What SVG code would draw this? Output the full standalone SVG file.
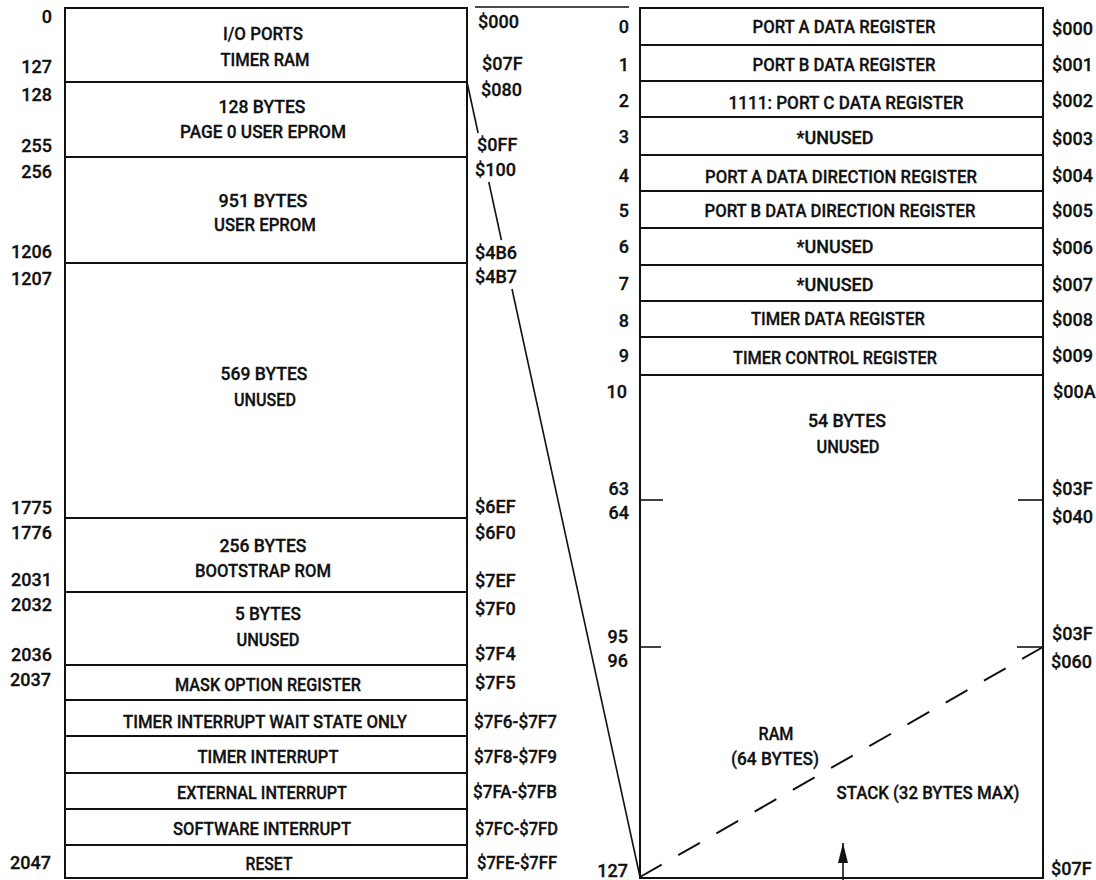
<svg xmlns="http://www.w3.org/2000/svg" width="1096" height="880" viewBox="0 0 1096 880">
<style>
.bg{fill:#fff}
.box{fill:none;stroke:#111;stroke-width:2}
.tick{stroke:#111;stroke-width:1.6}
.t{font-family:Roboto,"Liberation Sans",Arial,sans-serif;font-size:18px;font-weight:500;fill:#111;stroke:#111;stroke-width:0.3}
.m{text-anchor:middle}
.e{text-anchor:end}
.cn{fill:none;stroke:#111;stroke-width:1.6}
.dash{fill:none;stroke:#111;stroke-width:2;stroke-dasharray:25 19}
</style>
<defs>
<marker id="ah" viewBox="0 0 20 10" refX="20" refY="5" markerWidth="20" markerHeight="10" markerUnits="userSpaceOnUse" orient="auto">
<path d="M0,0 L20,5 L0,10 Z" fill="#111"/>
</marker>
</defs>
<rect class="bg" x="0" y="0" width="1096" height="880"/>

<!-- LEFT MEMORY MAP -->
<g id="io">
<rect class="box" x="65" y="8" width="402" height="74"/>
<text class="t m" x="263" y="40" textLength="80" lengthAdjust="spacingAndGlyphs">I/O PORTS</text>
<text class="t m" x="265" y="66" textLength="89" lengthAdjust="spacingAndGlyphs">TIMER RAM</text>
<text class="t e" x="52" y="23">0</text>
<text class="t e" x="52" y="73">127</text>
<text class="t" x="478" y="28">$000</text>
<text class="t" x="482" y="70">$07F</text>
</g>
<g id="page0">
<rect class="box" x="65" y="82" width="402" height="75"/>
<text class="t m" x="262" y="113" textLength="87" lengthAdjust="spacingAndGlyphs">128 BYTES</text>
<text class="t m" x="263" y="138" textLength="166" lengthAdjust="spacingAndGlyphs">PAGE 0 USER EPROM</text>
<text class="t e" x="52" y="101">128</text>
<text class="t e" x="52" y="152">255</text>
<text class="t" x="481" y="96">$080</text>
<text class="t" x="477" y="151">$0FF</text>
</g>
<g id="eprom">
<rect class="box" x="65" y="157" width="402" height="106"/>
<text class="t m" x="263" y="207" textLength="89" lengthAdjust="spacingAndGlyphs">951 BYTES</text>
<text class="t m" x="265" y="231" textLength="102" lengthAdjust="spacingAndGlyphs">USER EPROM</text>
<text class="t e" x="52" y="178">256</text>
<text class="t e" x="52" y="258">1206</text>
<text class="t" x="475" y="176">$100</text>
<text class="t" x="475" y="259">$4B6</text>
</g>
<g id="unused569">
<rect class="box" x="65" y="263" width="402" height="255"/>
<text class="t m" x="264" y="380" textLength="87" lengthAdjust="spacingAndGlyphs">569 BYTES</text>
<text class="t m" x="265" y="406" textLength="62" lengthAdjust="spacingAndGlyphs">UNUSED</text>
<text class="t e" x="52" y="285">1207</text>
<text class="t e" x="52" y="514">1775</text>
<text class="t" x="475" y="283">$4B7</text>
<text class="t" x="475" y="513">$6EF</text>
</g>
<g id="bootstrap">
<rect class="box" x="65" y="518" width="402" height="74"/>
<text class="t m" x="263" y="552" textLength="87" lengthAdjust="spacingAndGlyphs">256 BYTES</text>
<text class="t m" x="263" y="577" textLength="136" lengthAdjust="spacingAndGlyphs">BOOTSTRAP ROM</text>
<text class="t e" x="52" y="539">1776</text>
<text class="t e" x="52" y="586">2031</text>
<text class="t" x="475" y="539">$6F0</text>
<text class="t" x="475" y="587">$7EF</text>
</g>
<g id="unused5">
<rect class="box" x="65" y="592" width="402" height="73"/>
<text class="t m" x="268" y="620" textLength="66" lengthAdjust="spacingAndGlyphs">5 BYTES</text>
<text class="t m" x="268" y="646" textLength="63" lengthAdjust="spacingAndGlyphs">UNUSED</text>
<text class="t e" x="52" y="611">2032</text>
<text class="t e" x="52" y="661">2036</text>
<text class="t" x="475" y="615">$7F0</text>
<text class="t" x="475" y="660">$7F4</text>
</g>
<g id="mask">
<rect class="box" x="65" y="665" width="402" height="35"/>
<text class="t m" x="268" y="691" textLength="186" lengthAdjust="spacingAndGlyphs">MASK OPTION REGISTER</text>
<text class="t e" x="51" y="686">2037</text>
<text class="t" x="475" y="689">$7F5</text>
</g>
<g id="timer-wait">
<rect class="box" x="65" y="700" width="402" height="36"/>
<text class="t m" x="265" y="728" textLength="284" lengthAdjust="spacingAndGlyphs">TIMER INTERRUPT WAIT STATE ONLY</text>
<text class="t" x="474" y="728" textLength="83" lengthAdjust="spacingAndGlyphs">$7F6-$7F7</text>
</g>
<g id="timer-int">
<rect class="box" x="65" y="736" width="402" height="37"/>
<text class="t m" x="268" y="763" textLength="141" lengthAdjust="spacingAndGlyphs">TIMER INTERRUPT</text>
<text class="t" x="474" y="763" textLength="83" lengthAdjust="spacingAndGlyphs">$7F8-$7F9</text>
</g>
<g id="ext-int">
<rect class="box" x="65" y="773" width="402" height="36"/>
<text class="t m" x="262" y="799" textLength="170" lengthAdjust="spacingAndGlyphs">EXTERNAL INTERRUPT</text>
<text class="t" x="473" y="798" textLength="84" lengthAdjust="spacingAndGlyphs">$7FA-$7FB</text>
</g>
<g id="swi">
<rect class="box" x="65" y="809" width="402" height="36"/>
<text class="t m" x="262" y="835" textLength="178" lengthAdjust="spacingAndGlyphs">SOFTWARE INTERRUPT</text>
<text class="t" x="475" y="835" textLength="83" lengthAdjust="spacingAndGlyphs">$7FC-$7FD</text>
</g>
<g id="reset">
<rect class="box" x="65" y="845" width="402" height="33"/>
<text class="t m" x="269" y="870" textLength="47" lengthAdjust="spacingAndGlyphs">RESET</text>
<text class="t e" x="51" y="869">2047</text>
<text class="t" x="477" y="869" textLength="80" lengthAdjust="spacingAndGlyphs">$7FE-$7FF</text>
</g>

<!-- RIGHT EXPANDED MAP -->
<g id="r0">
<rect class="box" x="640" y="8" width="403" height="37"/>
<text class="t m" x="844" y="33" textLength="183" lengthAdjust="spacingAndGlyphs">PORT A DATA REGISTER</text>
<text class="t e" x="629" y="33">0</text>
<text class="t" x="1052" y="35">$000</text>
</g>
<g id="r1">
<rect class="box" x="640" y="45" width="403" height="36"/>
<text class="t m" x="844" y="71" textLength="183" lengthAdjust="spacingAndGlyphs">PORT B DATA REGISTER</text>
<text class="t e" x="629" y="71">1</text>
<text class="t" x="1052" y="71">$001</text>
</g>
<g id="r2">
<rect class="box" x="640" y="81" width="403" height="36"/>
<text class="t m" x="846" y="109" textLength="235" lengthAdjust="spacingAndGlyphs">1111: PORT C DATA REGISTER</text>
<text class="t e" x="629" y="107">2</text>
<text class="t" x="1052" y="107">$002</text>
</g>
<g id="r3">
<rect class="box" x="640" y="117" width="403" height="38"/>
<text class="t m" x="835" y="144" textLength="77" lengthAdjust="spacingAndGlyphs">*UNUSED</text>
<text class="t e" x="629" y="143">3</text>
<text class="t" x="1052" y="145">$003</text>
</g>
<g id="r4">
<rect class="box" x="640" y="155" width="403" height="36"/>
<text class="t m" x="841" y="183" textLength="272" lengthAdjust="spacingAndGlyphs">PORT A DATA DIRECTION REGISTER</text>
<text class="t e" x="629" y="182">4</text>
<text class="t" x="1052" y="182">$004</text>
</g>
<g id="r5">
<rect class="box" x="640" y="191" width="403" height="37"/>
<text class="t m" x="840" y="217" textLength="271" lengthAdjust="spacingAndGlyphs">PORT B DATA DIRECTION REGISTER</text>
<text class="t e" x="629" y="217">5</text>
<text class="t" x="1052" y="217">$005</text>
</g>
<g id="r6">
<rect class="box" x="640" y="228" width="403" height="37"/>
<text class="t m" x="835" y="253" textLength="77" lengthAdjust="spacingAndGlyphs">*UNUSED</text>
<text class="t e" x="629" y="253">6</text>
<text class="t" x="1052" y="254">$006</text>
</g>
<g id="r7">
<rect class="box" x="640" y="265" width="403" height="36"/>
<text class="t m" x="835" y="291" textLength="77" lengthAdjust="spacingAndGlyphs">*UNUSED</text>
<text class="t e" x="629" y="290">7</text>
<text class="t" x="1052" y="291">$007</text>
</g>
<g id="r8">
<rect class="box" x="640" y="301" width="403" height="36"/>
<text class="t m" x="838" y="325" textLength="174" lengthAdjust="spacingAndGlyphs">TIMER DATA REGISTER</text>
<text class="t e" x="629" y="327">8</text>
<text class="t" x="1052" y="326">$008</text>
</g>
<g id="r9">
<rect class="box" x="640" y="337" width="403" height="38"/>
<text class="t m" x="835" y="364" textLength="204" lengthAdjust="spacingAndGlyphs">TIMER CONTROL REGISTER</text>
<text class="t e" x="629" y="362">9</text>
<text class="t" x="1052" y="362">$009</text>
</g>
<g id="ram">
<rect class="box" x="640" y="375" width="403" height="503"/>
<line class="tick" x1="640" y1="500" x2="663" y2="500"/>
<line class="tick" x1="1018" y1="500" x2="1043" y2="500"/>
<line class="tick" x1="640" y1="647" x2="661" y2="647"/>
<line class="tick" x1="1017" y1="647" x2="1043" y2="647"/>
<text class="t m" x="847" y="427" textLength="78" lengthAdjust="spacingAndGlyphs">54 BYTES</text>
<text class="t m" x="848" y="453" textLength="63" lengthAdjust="spacingAndGlyphs">UNUSED</text>
<text class="t m" x="776" y="740" textLength="35" lengthAdjust="spacingAndGlyphs">RAM</text>
<text class="t m" x="775" y="765" textLength="88" lengthAdjust="spacingAndGlyphs">(64 BYTES)</text>
<text class="t m" x="928" y="799" textLength="183" lengthAdjust="spacingAndGlyphs">STACK (32 BYTES MAX)</text>
<text class="t e" x="627" y="398">10</text>
<text class="t e" x="629" y="495">63</text>
<text class="t e" x="629" y="519">64</text>
<text class="t e" x="628" y="643">95</text>
<text class="t e" x="628" y="667">96</text>
<text class="t e" x="628" y="877">127</text>
<text class="t" x="1053" y="398">$00A</text>
<text class="t" x="1052" y="495">$03F</text>
<text class="t" x="1052" y="523">$040</text>
<text class="t" x="1052" y="640">$03F</text>
<text class="t" x="1051" y="668">$060</text>
<text class="t" x="1051" y="875">$07F</text>
<line class="dash" x1="640" y1="877" x2="1043" y2="647"/>
</g>

<!-- CONNECTORS -->
<g id="connectors">
<line class="cn" x1="475" y1="7" x2="629" y2="7"/>
<line class="cn" x1="467" y1="82" x2="478.1" y2="133"/>
<line class="cn" x1="488.8" y1="182" x2="501.4" y2="240"/>
<line class="cn" x1="512" y1="289" x2="640" y2="877"/>
<line class="cn" x1="843" y1="880" x2="843" y2="843" marker-end="url(#ah)"/>
</g>
</svg>
